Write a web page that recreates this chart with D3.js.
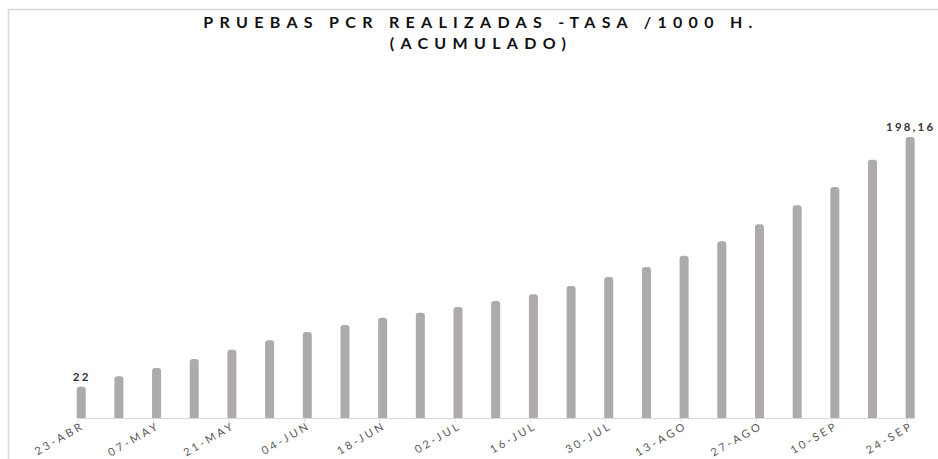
<!DOCTYPE html>
<html>
<head>
<meta charset="utf-8">
<script src="https://cdn.jsdelivr.net/npm/d3@7"></script>
<style>
    body { margin: 0; background: #fff; }
    svg { display: block; font-family: Lato, "Open Sans", sans-serif; }
</style>
</head>
<body>
<div id="chart"></div>
<script>
// weekly cumulative PCR tests per 1000 inhabitants
const categories = [
    "23-ABR", "30-ABR", "07-MAY", "14-MAY", "21-MAY", "28-MAY",
    "04-JUN", "11-JUN", "18-JUN", "25-JUN", "02-JUL", "09-JUL",
    "16-JUL", "23-JUL", "30-JUL", "06-AGO", "13-AGO", "20-AGO",
    "27-AGO", "03-SEP", "10-SEP", "17-SEP", "24-SEP"
];
const values = [
    22, 29.4, 35.3, 41.6, 48.2, 54.8,
    60.6, 65.6, 70.7, 74.3, 78.3, 82.5,
    87.2, 93.1, 99.4, 106.5, 114.5, 124.6,
    136.6, 150.0, 162.9, 182.2, 198.16
];
const tickLabels = [
    "23-ABR", "07-MAY", "21-MAY", "04-JUN", "18-JUN", "02-JUL",
    "16-JUL", "30-JUL", "13-AGO", "27-AGO", "10-SEP", "24-SEP"
];
// only the first and last bar carry a value label
const labelledCategories = ["23-ABR", "24-SEP"];
const titleLines = ["PRUEBAS PCR REALIZADAS -TASA /1000 H.", "(ACUMULADO)"];

function makeChart(selector) {
    const width = 938;
    const height = 459;
    const baseline = 418;
    const barWidth = 9;
    const barColor = "#aeaaaa";

    const locale = d3.formatLocale({ decimal: ",", thousands: ".", grouping: [3], currency: ["", ""] });
    const fmt = locale.format("~r");

    const svg = (
        d3.select(selector)
        .append("svg")
        .attr("width", width)
        .attr("height", height)
    );

    // chart area frame (only top and left edges are visible in the picture)
    (
        svg.append("path")
        .attr("d", `M8.5,${height} V9.5 H${width}`)
        .attr("fill", "none")
        .attr("stroke", "#d9d9d9")
        .attr("stroke-width", 1.5)
    );

    const title = (
        svg.append("text")
        .attr("text-anchor", "middle")
        .attr("font-size", 16)
        .attr("font-weight", "bold")
        .attr("fill", "#111")
    );
    titleLines.forEach((line, i) => {
        (
            title.append("tspan")
            .attr("x", 478 + 3)
            .attr("y", 28 + i * 21)
            .attr("letter-spacing", 6.3)
            .text(line)
        );
    });

    const xScale = d3.scalePoint().domain(categories).range([77.7, 906.7]);
    const yScale = d3.scaleLinear().domain([0, 200]).range([baseline, baseline - 200 * 1.418]);

    // bars with slightly rounded tops
    const r = 3;
    (
        svg.append("g")
        .selectAll("path")
        .data(categories)
        .join("path")
        .attr("d", (c, i) => {
            const x0 = xScale(c) - 1;
            const x1 = x0 + barWidth;
            const top = yScale(values[i]);
            const p = d3.path();
            p.moveTo(x0, baseline);
            p.lineTo(x0, top + r);
            p.quadraticCurveTo(x0, top, x0 + r, top);
            p.lineTo(x1 - r, top);
            p.quadraticCurveTo(x1, top, x1, top + r);
            p.lineTo(x1, baseline);
            p.closePath();
            return p.toString();
        })
        .attr("fill", barColor)
    );

    // axis line
    (
        svg.append("line")
        .attr("x1", xScale(categories[0]) - 1)
        .attr("x2", xScale(categories[categories.length - 1]) + barWidth - 1)
        .attr("y1", baseline + 0.5)
        .attr("y2", baseline + 0.5)
        .attr("stroke", "#d9d9d9")
        .attr("stroke-width", 1.2)
    );

    const xAxis = d3.axisBottom(xScale).tickValues(tickLabels).tickSize(4).tickSizeOuter(0);
    const axisG = (
        svg.append("g")
        .attr("transform", `translate(0, ${baseline})`)
        .call(xAxis)
    );
    axisG.select(".domain").remove();
    axisG.selectAll(".tick line").attr("stroke", "#d9d9d9");
    (
        axisG.selectAll(".tick text")
        .attr("font-family", "Lato, 'Open Sans', sans-serif")
        .attr("font-size", 11)
        .attr("fill", "#595959")
        .attr("letter-spacing", 2.8)
        .attr("text-anchor", "end")
        .attr("dy", null)
        .attr("y", 0)
        .attr("transform", "translate(7, 10) rotate(-30)")
    );

    // value labels
    (
        svg.append("g")
        .selectAll("text")
        .data(labelledCategories)
        .join("text")
        .attr("x", (c) => xScale(c) - 1 + barWidth / 2 + 0.5)
        .attr("y", (c) => yScale(values[categories.indexOf(c)]) - 6)
        .attr("text-anchor", "middle")
        .attr("font-size", 11.5)
        .attr("font-weight", "bold")
        .attr("letter-spacing", 2.2)
        .attr("fill", "#333")
        .text((c) => fmt(values[categories.indexOf(c)]))
    );
}

makeChart("#chart");
</script>
</body>
</html>
